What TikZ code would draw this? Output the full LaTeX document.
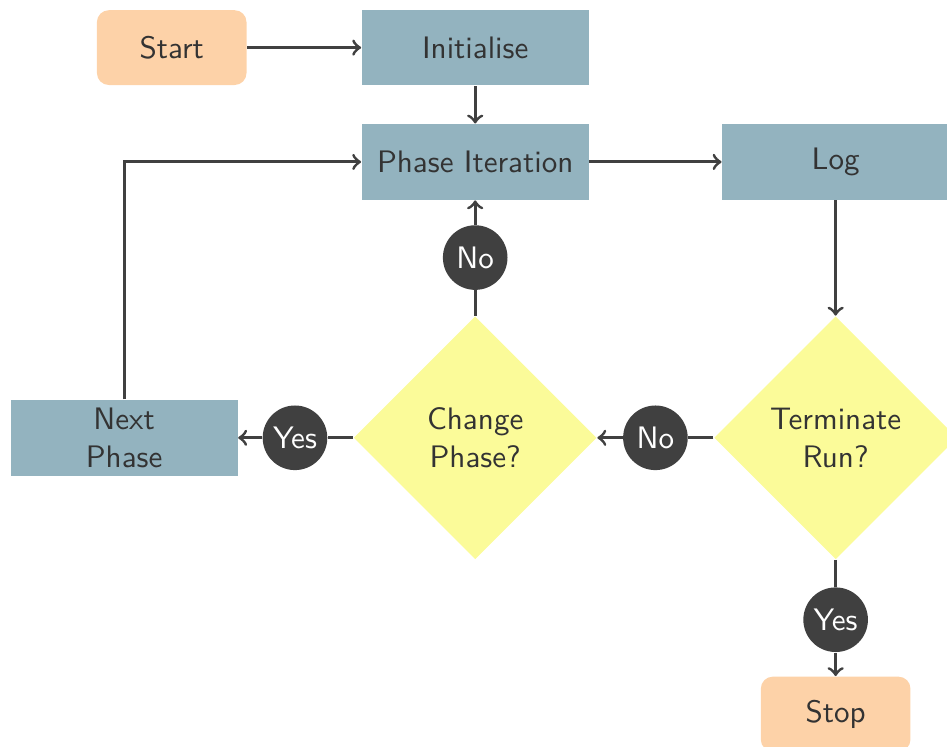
\documentclass[tikz,border=0pt]{standalone}
\usepackage{amsmath,amssymb}
\usepackage{tikz}
\usepackage{xcolor}
\usetikzlibrary{shapes.geometric}
\definecolor{termfill}{HTML}{FDD2A8}
\definecolor{procfill}{HTML}{93B3BF}
\definecolor{decfill}{HTML}{FBFB99}
\definecolor{linegray}{HTML}{404040}
\definecolor{textgray}{HTML}{333333}

\begin{document}
\begin{tikzpicture}[x=1cm,y=1cm,
  every node/.style={font=\sffamily\fontsize{10.4}{12.6}\selectfont,text=textgray,align=center},
  term/.style={fill=termfill,rounded corners=4pt,minimum width=1.76cm,minimum height=0.88cm,inner sep=0pt},
  proc/.style={fill=procfill,minimum width=2.67cm,minimum height=0.89cm,inner sep=0pt},
  decide/.style={diamond,fill=decfill,aspect=1,minimum width=2.86cm,minimum height=2.86cm,inner sep=0pt},
  answer/.style={circle,fill=linegray,text=white,minimum size=0.76cm,inner sep=0pt},
  flow/.style={draw=linegray,line width=1pt,->},
  link/.style={draw=linegray,line width=1pt}]
\clip (0,0) rectangle (11.14,-8.78);
\node[term] (start) at (2.02,-0.56) {Start};
\node[proc] (init) at (5.59,-0.56) {Initialise};
\node[proc] (iter) at (5.59,-1.905) {Phase Iteration};
\node[proc] (log) at (9.83,-1.905) {Log};
\node[decide] (change) at (5.59,-5.15) {Change\\Phase?};
\node[decide] (term) at (9.83,-5.15) {Terminate\\Run?};
\node[proc] (next) at (1.46,-5.15) {Next\\Phase};
\node[term] (stop) at (9.83,-8.40) {Stop};
\node[answer] (nochange) at (5.59,-3.03) {No};
\node[answer] (noterm) at (7.71,-5.15) {No};
\node[answer] (yeschange) at (3.47,-5.15) {Yes};
\node[answer] (yesterm) at (9.83,-7.29) {Yes};
\draw[flow] (start) -- (init);
\draw[flow] (init) -- (iter);
\draw[flow] (iter) -- (log);
\draw[flow] (log) -- (term);
\draw[link] (term) -- (noterm);
\draw[flow] (noterm) -- (change);
\draw[link] (change) -- (nochange);
\draw[flow] (nochange) -- (iter);
\draw[link] (change) -- (yeschange);
\draw[flow] (yeschange) -- (next);
\draw[flow] (next) |- (iter);
\draw[link] (term) -- (yesterm);
\draw[flow] (yesterm) -- (stop);
\end{tikzpicture}
\end{document}
